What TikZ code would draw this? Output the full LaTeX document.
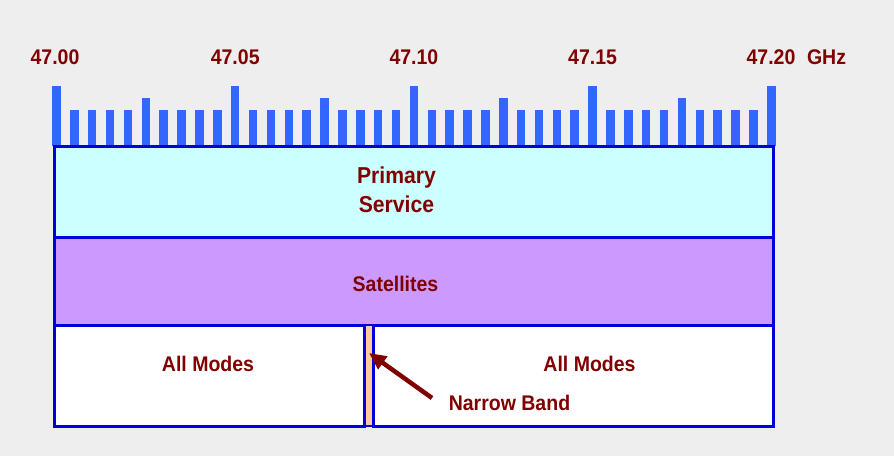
\documentclass[tikz,border=0pt]{standalone}
\usepackage{fontspec}
\setmainfont{Liberation Sans}
\newfontfamily\lblfont[FakeStretch=0.92]{Liberation Sans}
\usetikzlibrary{arrows.meta}
\definecolor{bg}{HTML}{EEEEEE}
\definecolor{barblue}{HTML}{3366FF}
\definecolor{edge}{HTML}{0000DD}
\definecolor{txt}{HTML}{800000}
\definecolor{prim}{HTML}{CCFFFF}
\definecolor{sat}{HTML}{CC99FF}
\definecolor{peach}{HTML}{FFCC99}
\begin{document}
\begin{tikzpicture}[x=1pt,y=-1pt,
  lbl/.style={text=txt,font=\lblfont\fontsize{21.2}{25}\selectfont\bfseries,inner sep=0pt,anchor=base},
  biglbl/.style={lbl,font=\lblfont\fontsize{23}{27}\selectfont\bfseries},
  row/.style={draw=edge,line width=3pt,rectangle,inner sep=0pt,outer sep=0pt,anchor=north west},
  pointer/.style={draw=txt,line width=4.5pt,-{Triangle[length=17pt,width=15pt]}}]
\fill[bg] (0,0) rectangle (894,456);
\useasboundingbox (0,0) rectangle (894,456);
% frequency bars
\foreach \i in {0,...,40}{
  \pgfmathsetmacro\xc{56.5+17.87*\i}
  \pgfmathsetmacro\tp{ifthenelse(mod(\i,10)==0,86,ifthenelse(mod(\i,5)==0,98,110))}
  \fill[barblue] (\xc-4.25,\tp) rectangle (\xc+4.25,146);
}
% frequency labels
\node[lbl] (f0) at (55,64) {47.00};
\node[lbl] (f1) at (235.2,64) {47.05};
\node[lbl] (f2) at (413.9,64) {47.10};
\node[lbl] (f3) at (592.6,64) {47.15};
\node[lbl] (f4) at (771,64) {47.20};
\node[lbl] (ghz) at (826.5,64) {GHz};
% rows
\node[row,fill=prim,minimum width=719pt,minimum height=90.5pt] (primary) at (54.5,146.5) {};
\node[row,fill=sat,minimum width=719pt,minimum height=88pt] (satrow) at (54.5,237) {};
\node[row,fill=white,minimum width=310.2pt,minimum height=101pt] (leftrow) at (54.5,325) {};
\node[row,fill=white,minimum width=400.5pt,minimum height=101pt] (rightrow) at (373,325) {};
\node[row,fill=peach,line width=2.7pt,minimum width=8.3pt,minimum height=101pt] (narrow) at (364.7,325) {};
% texts
\node[biglbl] (prima) at (396.5,183.3) {Primary};
\node[biglbl] (primb) at (396.5,212.3) {Service};
\node[lbl] (sattxt) at (395.5,291.5) {Satellites};
\node[lbl] (lefttxt) at (208,371.7) {All Modes};
\node[lbl] (righttxt) at (589.5,371.7) {All Modes};
\node[lbl] (nbtxt) at (509.5,410) {Narrow Band};
% pointer
\coordinate (tail) at (432,398);
\coordinate (tip) at (369,353);
\draw[pointer] (tail) -- (tip);
\end{tikzpicture}
\end{document}
